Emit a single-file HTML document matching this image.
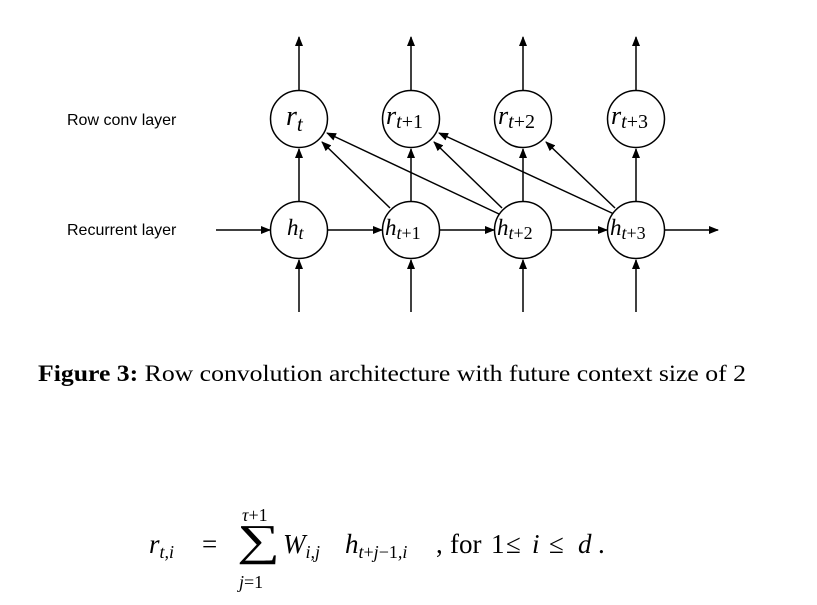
<!DOCTYPE html>
<html><head><meta charset="utf-8"><style>
html,body{margin:0;padding:0;background:#fff;width:817px;height:605px;overflow:hidden}
</style></head><body>
<svg width="817" height="605" viewBox="0 0 817 605" xmlns="http://www.w3.org/2000/svg">
<defs><marker id="a" markerWidth="10" markerHeight="8" refX="9" refY="4" orient="auto" markerUnits="userSpaceOnUse"><path d="M0,0 L10,4 L0,8 z" fill="#000"/></marker></defs>
<g stroke="#000" stroke-width="1.5" fill="none">
<g marker-end="url(#a)">
<line x1="299" y1="90" x2="299" y2="37"/><line x1="411" y1="90" x2="411" y2="37"/><line x1="523" y1="90" x2="523" y2="37"/><line x1="636" y1="90" x2="636" y2="37"/>
<line x1="299" y1="201" x2="299" y2="149"/><line x1="411" y1="201" x2="411" y2="149"/><line x1="523" y1="201" x2="523" y2="149"/><line x1="636" y1="201" x2="636" y2="149"/>
<line x1="299" y1="312" x2="299" y2="260"/><line x1="411" y1="312" x2="411" y2="260"/><line x1="523" y1="312" x2="523" y2="260"/><line x1="636" y1="312" x2="636" y2="260"/>
<line x1="216" y1="230" x2="270" y2="230"/><line x1="328" y1="230" x2="382" y2="230"/><line x1="440" y1="230" x2="494" y2="230"/><line x1="552" y1="230" x2="607" y2="230"/><line x1="665" y1="230" x2="718" y2="230"/>
<line x1="390" y1="208" x2="322" y2="142"/>
<line x1="499" y1="214" x2="327" y2="133"/>
<line x1="502" y1="208" x2="434" y2="142"/>
<line x1="614" y1="214" x2="439" y2="133"/>
<line x1="615" y1="208" x2="546" y2="142"/>
</g>
<circle cx="299" cy="119" r="28.5" fill="#fff"/><circle cx="411" cy="119" r="28.5" fill="#fff"/><circle cx="523" cy="119" r="28.5" fill="#fff"/><circle cx="636" cy="119" r="28.5" fill="#fff"/>
<circle cx="299" cy="230" r="28.5" fill="#fff"/><circle cx="411" cy="230" r="28.5" fill="#fff"/><circle cx="523" cy="230" r="28.5" fill="#fff"/><circle cx="636" cy="230" r="28.5" fill="#fff"/>
</g>
<g font-family="Liberation Serif, serif" fill="#000">
<text x="286" y="125" font-size="28" font-style="italic">r<tspan font-size="21" dy="6">t</tspan></text>
<text x="386" y="124" font-size="26" font-style="italic">r<tspan font-size="20" dy="4">t<tspan font-style="normal">+1</tspan></tspan></text>
<text x="498" y="124" font-size="26" font-style="italic">r<tspan font-size="20" dy="4">t<tspan font-style="normal">+2</tspan></tspan></text>
<text x="611" y="124" font-size="26" font-style="italic">r<tspan font-size="20" dy="4">t<tspan font-style="normal">+3</tspan></tspan></text>
<text x="287" y="235" font-size="23" font-style="italic">h<tspan font-size="18" dy="4">t</tspan></text>
<text x="385" y="235" font-size="23" font-style="italic">h<tspan font-size="18" dy="4">t<tspan font-style="normal">+1</tspan></tspan></text>
<text x="497" y="235" font-size="23" font-style="italic">h<tspan font-size="18" dy="4">t<tspan font-style="normal">+2</tspan></tspan></text>
<text x="610" y="235" font-size="23" font-style="italic">h<tspan font-size="18" dy="4">t<tspan font-style="normal">+3</tspan></tspan></text>
<text x="38" y="381" font-size="23" textLength="708" lengthAdjust="spacingAndGlyphs"><tspan font-weight="bold">Figure 3:</tspan> Row convolution architecture with future context size of 2</text>
<text x="149" y="553" font-size="27" font-style="italic">r<tspan font-size="18" dy="5">t,i</tspan></text>
<text x="202" y="553" font-size="27">=</text>
<text x="242" y="521" font-size="18"><tspan font-style="italic">τ</tspan>+1</text>
<text x="237" y="555" font-size="44" textLength="43" lengthAdjust="spacingAndGlyphs">∑</text>
<text x="239" y="588" font-size="18"><tspan font-style="italic">j</tspan>=1</text>
<text x="283" y="553" font-size="27" font-style="italic">W<tspan font-size="18" dy="5">i,j</tspan></text>
<text x="345" y="553" font-size="27" font-style="italic">h<tspan font-size="18" dy="5">t<tspan font-style="normal">+</tspan>j<tspan font-style="normal">−1</tspan>,i</tspan></text>
<text x="436" y="553" font-size="27">,</text>
<text x="450" y="553" font-size="27">for</text>
<text x="491" y="553" font-size="27">1</text>
<text x="506" y="553" font-size="27">≤</text>
<text x="532" y="553" font-size="27" font-style="italic">i</text>
<text x="549" y="553" font-size="27">≤</text>
<text x="578" y="553" font-size="27" font-style="italic">d</text>
<text x="598" y="553" font-size="27">.</text>
</g>
<g font-family="Liberation Sans, sans-serif" font-size="16" fill="#000">
<text x="67" y="125">Row conv layer</text>
<text x="67" y="235">Recurrent layer</text>
</g>
</svg>
</body></html>
